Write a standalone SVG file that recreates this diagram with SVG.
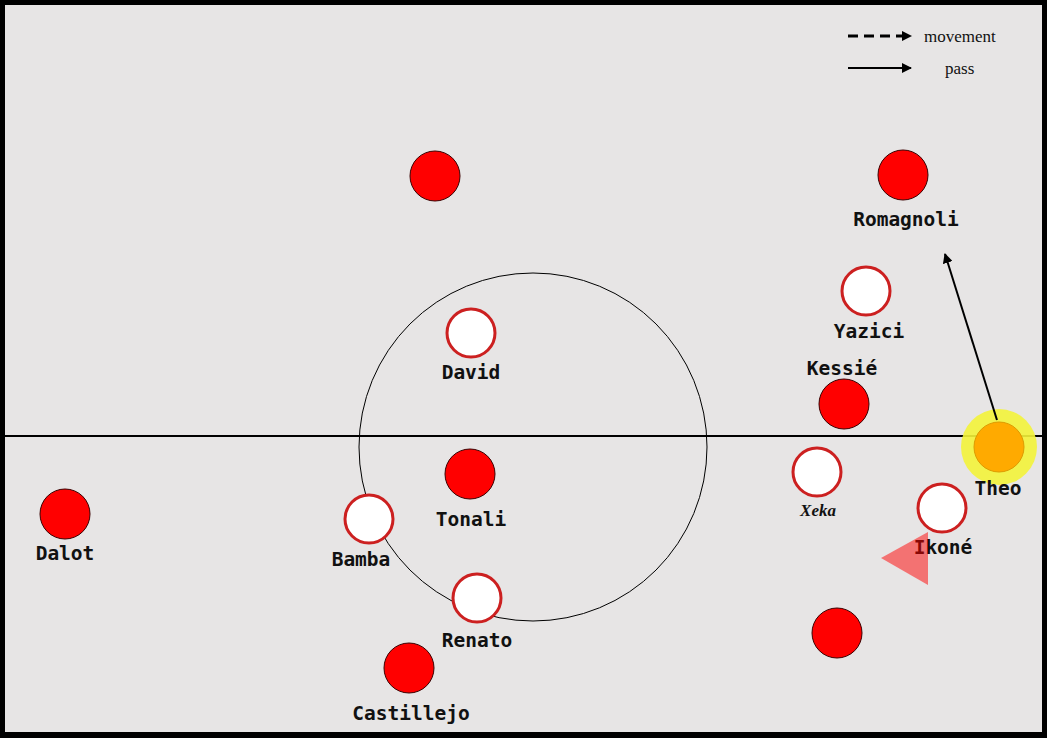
<svg xmlns="http://www.w3.org/2000/svg" width="1047" height="738" viewBox="0 0 1047 738">
<defs>
<style>
.red{fill:#ff0000;stroke:#3a0000;stroke-width:1}
.wht{fill:#ffffff;stroke:#cc2020;stroke-width:3}
.lbl{font-family:"DejaVu Sans Mono","Liberation Mono",monospace;font-weight:bold;font-size:19.5px;fill:#111;text-anchor:middle}
.leg{font-family:"Liberation Serif",serif;font-size:17px;fill:#111}
</style>
<marker id="ah" viewBox="0 0 10 10" refX="9" refY="5" markerWidth="5" markerHeight="5" orient="auto" markerUnits="strokeWidth"><path d="M0,0 L10,5 L0,10 z" fill="#000"/></marker>
<marker id="ah2" viewBox="0 0 10 10" refX="9" refY="5" markerWidth="3.5" markerHeight="3.5" orient="auto" markerUnits="strokeWidth"><path d="M0,0 L10,5 L0,10 z" fill="#000"/></marker>
</defs>
<rect x="0" y="0" width="1047" height="738" fill="#000"/>
<rect x="5" y="5" width="1037" height="727" fill="#e7e5e5"/>
<g id="pitch" fill="none" stroke="#000">
<line x1="5" y1="436" x2="1042" y2="436" stroke-width="2"/>
<circle cx="533" cy="447" r="174" stroke-width="1"/>
</g>
<g id="legend">
<line x1="848" y1="36" x2="911" y2="36" stroke="#000" stroke-width="3" stroke-dasharray="10,6" marker-end="url(#ah2)"/>
<text class="leg" x="924" y="42">movement</text>
<line x1="848" y1="68" x2="911" y2="68" stroke="#000" stroke-width="2" marker-end="url(#ah)"/>
<text class="leg" x="945" y="74">pass</text>
</g>
<g id="theo">
<circle cx="999" cy="447" r="38" fill="#f3f33a" opacity="0.9"/>
<circle cx="999" cy="447" r="25" fill="#ffaa00" stroke="#dd9a00" stroke-width="1"/>
<text class="lbl" x="998" y="495">Theo</text>
</g>
<g id="connectors">
<line x1="997" y1="420" x2="945" y2="254" stroke="#000" stroke-width="2" marker-end="url(#ah)"/>
</g>
<g id="p-top"><circle class="red" cx="435" cy="176" r="25"/></g>
<g id="romagnoli"><circle class="red" cx="903" cy="175" r="25"/><text class="lbl" x="906" y="226">Romagnoli</text></g>
<g id="yazici"><circle class="wht" cx="866" cy="291" r="24"/><text class="lbl" x="869" y="338">Yazici</text></g>
<g id="kessie"><circle class="red" cx="844" cy="404" r="25"/><text class="lbl" x="842" y="375">Kessié</text></g>
<g id="david"><circle class="wht" cx="471" cy="333" r="24"/><text class="lbl" x="471" y="379">David</text></g>
<g id="tonali"><circle class="red" cx="470" cy="474" r="25"/><text class="lbl" x="471" y="526">Tonali</text></g>
<g id="dalot"><circle class="red" cx="65" cy="514" r="25"/><text class="lbl" x="65" y="560">Dalot</text></g>
<g id="bamba"><circle class="wht" cx="369" cy="519" r="24"/><text class="lbl" x="361" y="566">Bamba</text></g>
<g id="renato"><circle class="wht" cx="477" cy="598" r="24"/><text class="lbl" x="477" y="647">Renato</text></g>
<g id="castillejo"><circle class="red" cx="409" cy="668" r="25"/><text class="lbl" x="411" y="720">Castillejo</text></g>
<g id="xeka"><circle class="wht" cx="817" cy="472" r="24"/><text x="818" y="516" text-anchor="middle" style="font-family:'Liberation Serif',serif;font-style:italic;font-weight:bold;font-size:17px;fill:#111">Xeka</text></g>
<g id="ikone"><circle class="wht" cx="942" cy="508" r="24"/><text class="lbl" x="943" y="554">Ikoné</text></g>
<g id="p-bottom"><circle class="red" cx="837" cy="633" r="25"/></g>
<g id="triangle"><polygon points="881,558 928,532 928,585" fill="#ff0000" opacity="0.5"/></g>
</svg>
